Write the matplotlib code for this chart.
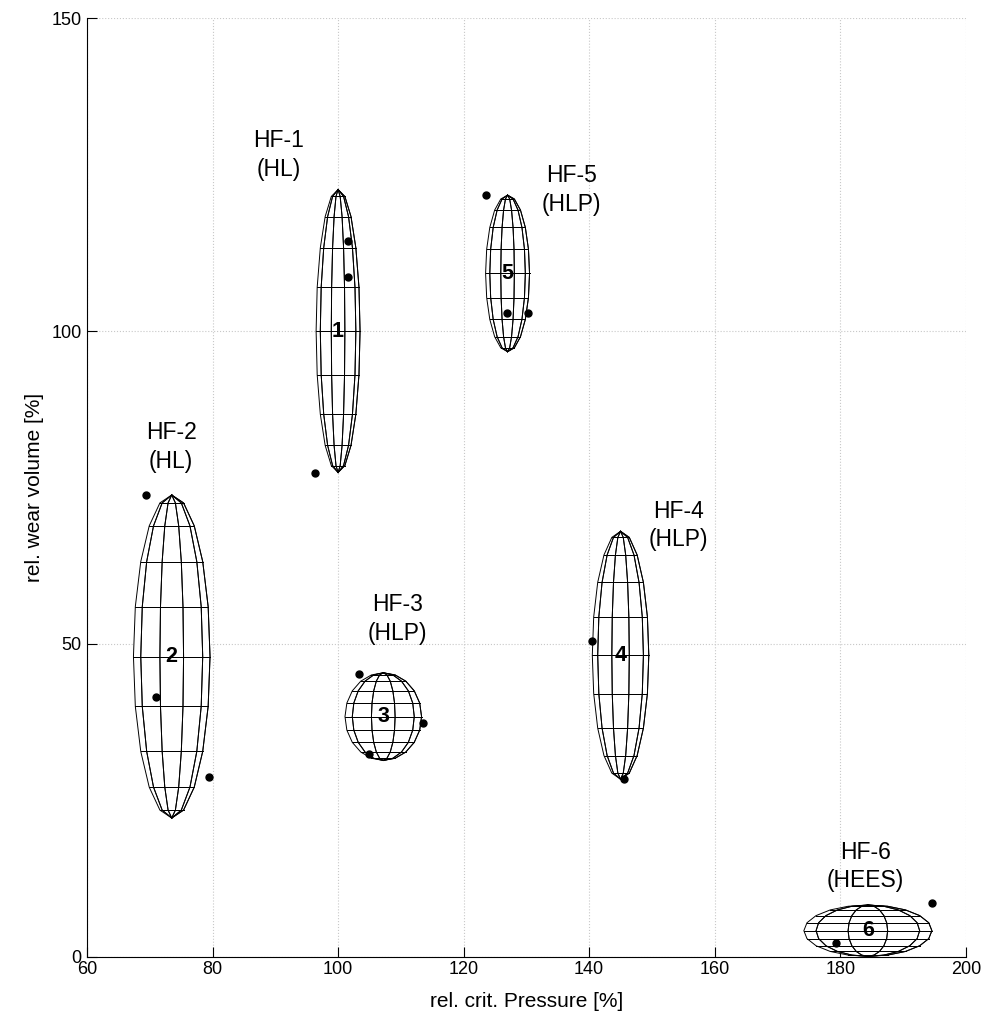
import numpy as np
import matplotlib
matplotlib.use("Agg")
import matplotlib.pyplot as plt

plt.rcParams['font.family'] = ['Liberation Sans', 'DejaVu Sans']

# ellipsoid centres and semi-axes (rel. crit. pressure, rel. wear volume)
ids = ["1", "2", "3", "4", "5", "6"]
center_x = [100.0, 73.5, 107.2, 145.0, 127.0, 184.4]
center_y = [100.0, 48.0, 38.4, 48.2, 109.2, 4.2]
radius_x = [3.5, 6.1, 6.1, 4.5, 3.5, 10.2]
radius_y = [22.6, 25.8, 7.0, 19.8, 12.5, 4.1]

# group labels
group_names = ["HF-1\n(HL)", "HF-2\n(HL)", "HF-3\n(HLP)", "HF-4\n(HLP)", "HF-5\n(HLP)", "HF-6\n(HEES)"]
label_x = [90.5, 73.4, 109.5, 154.2, 137.2, 184.0]
label_y = [128.1, 81.5, 54.0, 68.9, 122.5, 14.5]

# individual measurements
points_x = [101.6, 101.6, 96.4, 69.4, 71.0, 79.5, 103.3, 113.5, 105.0,
            140.5, 145.5, 123.5, 126.9, 130.2, 194.6, 179.4]
points_y = [114.4, 108.7, 77.3, 73.8, 41.5, 28.7, 45.2, 37.3, 32.4,
            50.4, 28.4, 121.7, 102.9, 102.9, 8.6, 2.2]

x_ticks = [60, 80, 100, 120, 140, 160, 180, 200]
y_ticks = [0, 50, 100, 150]

fig = plt.figure(figsize=(9.83, 10.30), dpi=100)
ax = fig.add_axes([0.0885, 0.0709, 0.894, 0.9116])

n = 10
phi = np.linspace(0, np.pi, n + 1)
theta = np.linspace(0, 2 * np.pi, n + 1)
phi_full = np.linspace(0, 2 * np.pi, 2 * n + 1)

for cx, cy, rx, ry, lab in zip(center_x, center_y, radius_x, radius_y, ids):
    # white face (outline of ellipsoid)
    ox = cx + rx * np.sin(phi_full)
    oy = cy + ry * np.cos(phi_full)
    ax.fill(ox, oy, color='white', zorder=2, lw=0)
    # meridians
    for t in theta:
        ax.plot(cx + rx * np.sin(phi) * np.cos(t), cy + ry * np.cos(phi),
                color='black', lw=0.7, zorder=3)
    # parallels
    for p in phi:
        ax.plot(cx + rx * np.sin(p) * np.cos(theta), np.full_like(theta, cy + ry * np.cos(p)),
                color='black', lw=0.7, zorder=3)
    ax.text(cx, cy, lab, ha='center', va='center', fontsize=15.5, fontweight='bold', zorder=5)

for name, lx, ly in zip(group_names, label_x, label_y):
    ax.text(lx, ly, name, ha='center', va='center', fontsize=16.5, linespacing=1.3, zorder=5)

ax.plot(points_x, points_y, 'o', color='black', ms=5, zorder=6, clip_on=False)

ax.set_xlim(60, 200)
ax.set_ylim(0, 150)
ax.set_xticks(x_ticks)
ax.set_yticks(y_ticks)
ax.tick_params(direction='in', length=7, width=0.8, labelsize=13)
ax.tick_params(axis='x', pad=3)
ax.tick_params(axis='y', pad=4)
ax.spines['top'].set_visible(False)
ax.spines['right'].set_visible(False)
ax.grid(True, linestyle=':', color='#c8c8c8', lw=0.8, zorder=0)
ax.set_axisbelow(True)
ax.set_xlabel("rel. crit. Pressure [%]", fontsize=15, labelpad=10)
ax.set_ylabel("rel. wear volume [%]", fontsize=15, labelpad=5)

fig.savefig("out.png", dpi=100)
